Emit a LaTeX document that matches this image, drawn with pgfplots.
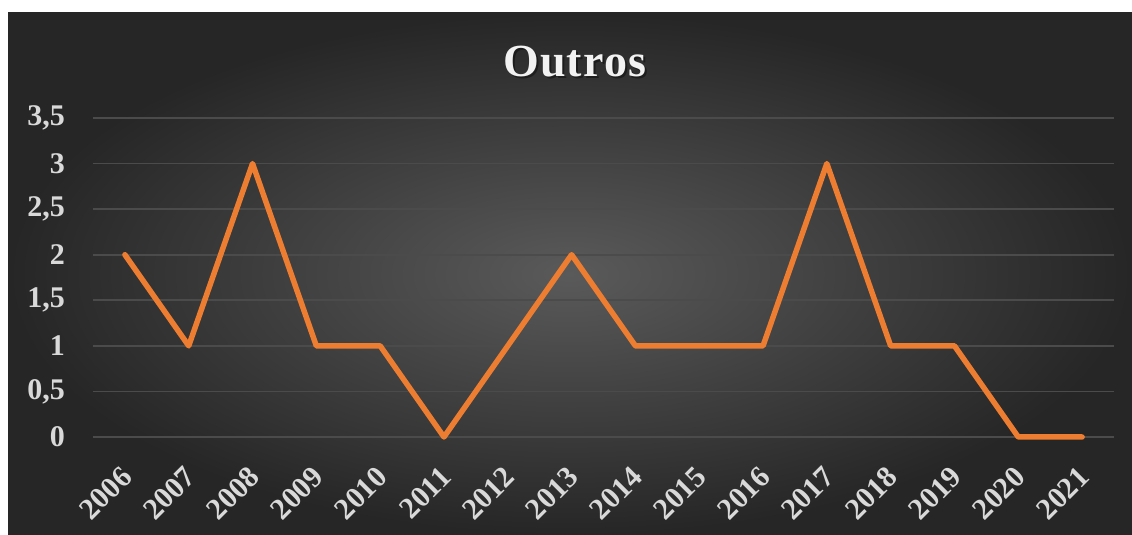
\documentclass[border=0pt]{standalone}
\usepackage{pgfplots}
\pgfplotsset{compat=1.18}
\usepackage{fontspec}
\setmainfont{Liberation Serif}
\definecolor{lineor}{HTML}{ED7D31}
\definecolor{txt}{HTML}{D9D9D9}
\definecolor{gridc}{HTML}{4B4B4B}
\definecolor{bgin}{HTML}{5A5A5A}
\definecolor{bgout}{HTML}{262626}
\begin{document}
\begin{tikzpicture}[x=1pt,y=1pt]
\fill[white] (0,0) rectangle (1132,535);
\shade[inner color=bgin, outer color=bgout] (8,0) rectangle (1132,522);
\node[text=black, opacity=0.4, font=\fontsize{46}{46}\selectfont\bfseries] at (577,471) {O\kern1pt u\kern1pt t\kern1pt r\kern1pt o\kern1pt s};
\node[text=white!95!black, font=\fontsize{46}{46}\selectfont\bfseries] at (575,473) {O\kern1pt u\kern1pt t\kern1pt r\kern1pt o\kern1pt s};
\begin{axis}[
  at={(93pt,98pt)}, anchor=south west,
  scale only axis, width=1021pt, height=319pt,
  xmin=-0.5, xmax=15.5, ymin=0, ymax=3.5,
  axis line style={draw=none},
  major tick length=0pt,
  ymajorgrids, grid style={gridc, line width=1.6pt},
  ytick={0,0.5,1,1.5,2,2.5,3,3.5},
  yticklabels={0,{0,5},1,{1,5},2,{2,5},3,{3,5}},
  xtick={0,...,15},
  xticklabels={2006,2007,2008,2009,2010,2011,2012,2013,2014,2015,2016,2017,2018,2019,2020,2021},
  yticklabel style={anchor=east, inner sep=0pt, xshift=-28pt, text=txt, font=\fontsize{30}{30}\selectfont\bfseries},
  xticklabel style={yshift=-35pt, xshift=2pt, rotate=45, anchor=east, inner sep=0pt, text=txt, font=\fontsize{30}{30}\selectfont\bfseries},
  clip=false,
]
\addplot[lineor, line width=5.5pt, line join=round, line cap=round] coordinates {
(0,2) (1,1) (2,3) (3,1) (4,1) (5,0) (6,1) (7,2) (8,1) (9,1) (10,1) (11,3) (12,1) (13,1) (14,0) (15,0)
};
\end{axis}
\end{tikzpicture}
\end{document}
